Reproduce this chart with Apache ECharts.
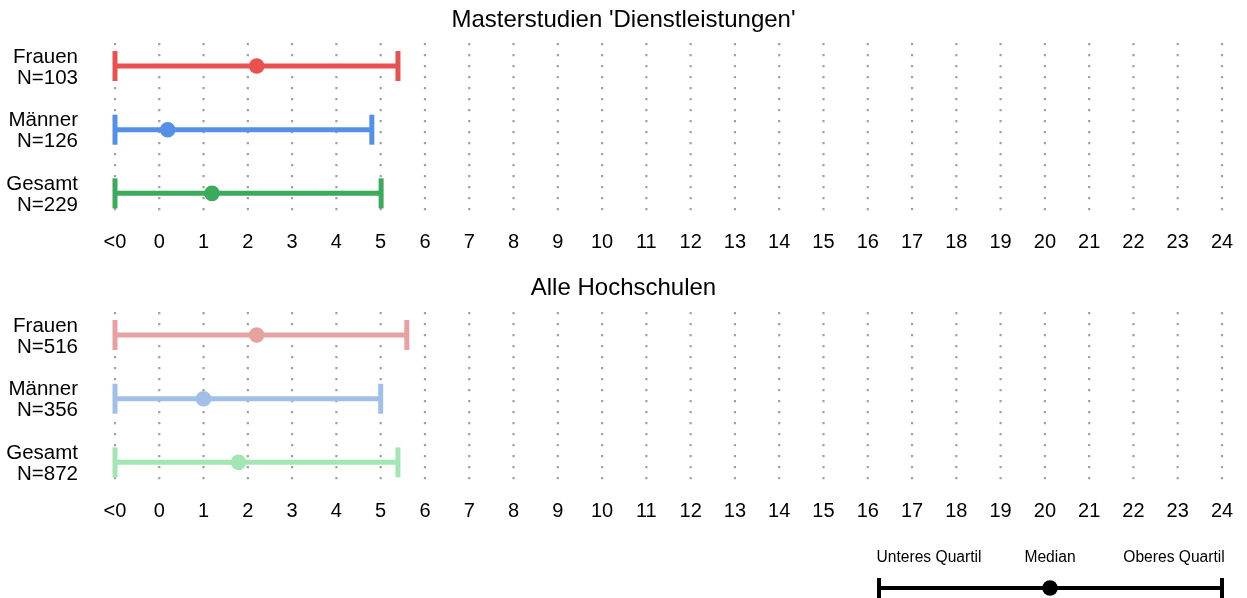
<!DOCTYPE html>
<html>
<head>
<meta charset="utf-8">
<script src="https://cdn.jsdelivr.net/npm/echarts@6/dist/echarts.min.js"></script>
<style>html,body{margin:0;padding:0;background:#fff}#c{width:1247px;height:598px}</style>
</head>
<body>
<div id="c"></div>
<script>
// ---- data ----
const tickLabels = ['<0','0','1','2','3','4','5','6','7','8','9','10','11','12','13','14','15','16','17','18','19','20','21','22','23','24'];
const tickValues = [-1,0,1,2,3,4,5,6,7,8,9,10,11,12,13,14,15,16,17,18,19,20,21,22,23,24];
const panelTitles = ["Masterstudien 'Dienstleistungen'", 'Alle Hochschulen'];

const rowLabels1 = ['Frauen\nN=103', 'Männer\nN=126', 'Gesamt\nN=229'];
const lower1  = [-1, -1, -1];
const median1 = [2.2, 0.19, 1.19];
const upper1  = [5.39, 4.80, 5.01];

const rowLabels2 = ['Frauen\nN=516', 'Männer\nN=356', 'Gesamt\nN=872'];
const lower2  = [-1, -1, -1];
const median2 = [2.2, 1.0, 1.79];
const upper2  = [5.59, 5.0, 5.39];

const legendLabels = ['Unteres Quartil', 'Median', 'Oberes Quartil'];

// ---- styles ----
const colors1 = ['#E8514F', '#5590E8', '#3BAA5B'];
const colors2 = ['#E6A2A1', '#A2BFE8', '#A4E6B3'];
const FONT = "'Liberation Sans', Arial, Helvetica, sans-serif";

const chart = echarts.init(document.getElementById('c'));

function errData(lo, med, up) {
  return lo.map((v, i) => [v, med[i], up[i], i]);
}
function errRender(colors, labels) {
  return function (params, api) {
    const row = api.value(3);
    const y = api.coord([0, row])[1];
    const xl = api.coord([api.value(0), row])[0];
    const xm = api.coord([api.value(1), row])[0];
    const xu = api.coord([api.value(2), row])[0];
    const xAxisStart = api.coord([tickValues[0], row])[0];
    const c = colors[params.dataIndex];
    const st = { stroke: c, lineWidth: 5 };
    return {
      type: 'group',
      children: [
        { type: 'line', shape: { x1: xl, y1: y, x2: xu, y2: y }, style: st },
        { type: 'line', shape: { x1: xl, y1: y - 15, x2: xl, y2: y + 15 }, style: st },
        { type: 'line', shape: { x1: xu, y1: y - 15, x2: xu, y2: y + 15 }, style: st },
        { type: 'circle', shape: { cx: xm, cy: y, r: 7.8 }, style: { fill: c } },
        { type: 'text', x: xAxisStart - 37, y: y + 1.5,
          style: { text: labels[params.dataIndex], font: '20.5px ' + FONT, lineHeight: 21, fill: '#000',
                   align: 'right', verticalAlign: 'middle' } }
      ]
    };
  };
}
function gridRender(params, api) {
  const v = api.value(0);
  const band = api.size([0, 1])[1];
  const p0 = api.coord([v, 0]);
  const p2 = api.coord([v, 2]);
  return {
    type: 'line',
    shape: { x1: p0[0], y1: p0[1] - 0.36 * band, x2: p0[0], y2: p2[1] + 0.36 * band },
    style: { stroke: '#a0a0a0', lineWidth: 2.2, lineDash: [2.2, 8.8] }
  };
}

const grids = [
  { left: 115, right: 25, top: 34.2, height: 191 },
  { left: 115, right: 25, top: 303.2, height: 191 }
];
const xAxes = [0, 1].map(i => ({
  type: 'value', gridIndex: i, min: -1, max: 24, interval: 1,
  axisLine: { show: false }, axisTick: { show: false }, splitLine: { show: false },
  axisLabel: {
    formatter: v => tickLabels[tickValues.indexOf(v)],
    fontSize: 20, color: '#000', fontFamily: FONT, margin: 7
  }
}));
const yAxes = [rowLabels1, rowLabels2].map((labels, i) => ({
  type: 'category', gridIndex: i, data: labels, inverse: true,
  axisLine: { show: false }, axisTick: { show: false }, splitLine: { show: false },
  axisLabel: { show: false }
}));

const series = [];
[0, 1].forEach(i => {
  series.push({
    type: 'custom', xAxisIndex: i, yAxisIndex: i, silent: true, z: 1,
    renderItem: gridRender, data: tickValues.map(v => [v, 0]), clip: false
  });
});
series.push({
  type: 'custom', xAxisIndex: 0, yAxisIndex: 0, z: 2, silent: true,
  renderItem: errRender(colors1, rowLabels1), data: errData(lower1, median1, upper1), clip: false
});
series.push({
  type: 'custom', xAxisIndex: 1, yAxisIndex: 1, z: 2, silent: true,
  renderItem: errRender(colors2, rowLabels2), data: errData(lower2, median2, upper2), clip: false
});

const legendY = 588;
const LFONT = '15.6px ' + FONT;
const legend = {
  type: 'group',
  children: [
    { type: 'line', shape: { x1: 879, y1: legendY, x2: 1222, y2: legendY }, style: { stroke: '#000', lineWidth: 4 } },
    { type: 'line', shape: { x1: 879, y1: legendY - 10, x2: 879, y2: legendY + 12 }, style: { stroke: '#000', lineWidth: 4 } },
    { type: 'line', shape: { x1: 1222, y1: legendY - 10, x2: 1222, y2: legendY + 12 }, style: { stroke: '#000', lineWidth: 4 } },
    { type: 'circle', shape: { cx: 1050, cy: legendY, r: 7.8 }, style: { fill: '#000' } },
    { type: 'text', x: 929, y: 558, style: { text: legendLabels[0], font: LFONT, fill: '#000', textAlign: 'center', textVerticalAlign: 'middle' } },
    { type: 'text', x: 1050, y: 558, style: { text: legendLabels[1], font: LFONT, fill: '#000', textAlign: 'center', textVerticalAlign: 'middle' } },
    { type: 'text', x: 1174, y: 558, style: { text: legendLabels[2], font: LFONT, fill: '#000', textAlign: 'center', textVerticalAlign: 'middle' } }
  ]
};

chart.setOption({
  animation: false,
  backgroundColor: '#fff',
  title: [
    { text: panelTitles[0], left: 'center', top: 3, textStyle: { fontSize: 24, fontWeight: 'normal', color: '#000', fontFamily: FONT } },
    { text: panelTitles[1], left: 'center', top: 271, textStyle: { fontSize: 24, fontWeight: 'normal', color: '#000', fontFamily: FONT } }
  ],
  grid: grids,
  xAxis: xAxes,
  yAxis: yAxes,
  series: series,
  graphic: [legend]
});
</script>
</body>
</html>
